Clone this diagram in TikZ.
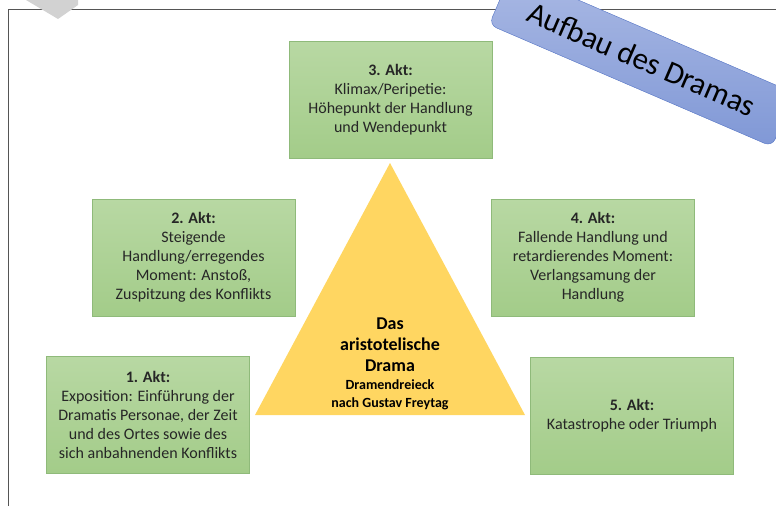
\documentclass[tikz,border=0pt]{standalone}
\usepackage{fontspec}
\setmainfont{Carlito}
\usetikzlibrary{positioning}
\definecolor{aktgreen}{RGB}{163,204,137}
\definecolor{aktlight}{RGB}{184,216,163}
\definecolor{aktborder}{RGB}{143,186,122}
\definecolor{dreieckgold}{RGB}{255,214,97}
\definecolor{bannerblue}{RGB}{128,152,214}
\definecolor{bannerlight}{RGB}{170,185,228}
\definecolor{bannerborder}{RGB}{82,114,196}
\definecolor{textgrey}{RGB}{38,38,38}
\definecolor{framegrey}{RGB}{85,85,85}
\newcommand{\akttitle}[1]{\textbf{#1}}

\begin{document}
\begin{tikzpicture}[
    x=1pt,y=-1pt,
    akt/.style={rectangle,draw=aktborder,top color=aktlight,bottom color=aktgreen,
      minimum width=203pt,minimum height=117pt,align=center,text=textgrey,
      font=\fontsize{16}{19}\selectfont},
    banner/.style={rectangle,rounded corners=8pt,draw=bannerborder,
      top color=bannerlight,bottom color=bannerblue,
      minimum width=308pt,minimum height=58pt,rotate=-23.3,
      font=\fontsize{31}{33}\selectfont},
    dreieck/.style={fill=dreieckgold}
  ]
    \useasboundingbox (0,0) rectangle (776,506);
    \clip (0,0) rectangle (776,506);

    % frame and grey corner
    \draw[framegrey,line width=1pt] (8,506) -- (8,9) -- (776,9);
    \fill[gray!35] (26,0) -- (78,0) -- (78,5) -- (58,19) -- cycle;

    % triangle
    \coordinate (apex) at (390,163);
    \coordinate (baseL) at (255,415);
    \coordinate (baseR) at (525,415);
    \fill[dreieck] (apex) -- (baseR) -- (baseL) -- cycle;
    \node[align=center,text=black,font=\bfseries\fontsize{18}{21}\selectfont] (drama) at (390,364)
      {Das\\aristotelische\\Drama\\[-3pt]{\fontsize{14}{16}\selectfont Dramendreieck}\\[-3pt]
       {\fontsize{14}{16}\selectfont nach Gustav Freytag}};

    % the five acts
    \node[akt] (akt3) at (390.5,100) {\akttitle{3. Akt:}\\Klimax/Peripetie:\\H\"ohepunkt der Handlung\\und Wendepunkt};
    \node[akt] (akt2) at (193.5,257.5) {\akttitle{2. Akt:}\\Steigende\\Handlung/erregendes\\Moment: Ansto\ss,\\Zuspitzung des Konflikts};
    \node[akt] (akt4) at (593,257.5) {\akttitle{4. Akt:}\\Fallende Handlung und\\retardierendes Moment:\\Verlangsamung der\\Handlung};
    \node[akt] (akt1) at (148,415) {\akttitle{1. Akt:}\\Exposition: Einf\"uhrung der\\Dramatis Personae, der Zeit\\und des Ortes sowie des\\sich anbahnenden Konflikts};
    \node[akt] (akt5) at (632,415.5) {\akttitle{5. Akt:}\\Katastrophe oder Triumph};

    % title banner
    \node[banner] (titel) at (642,59) {Aufbau des Dramas};
  \end{tikzpicture}
\end{document}
